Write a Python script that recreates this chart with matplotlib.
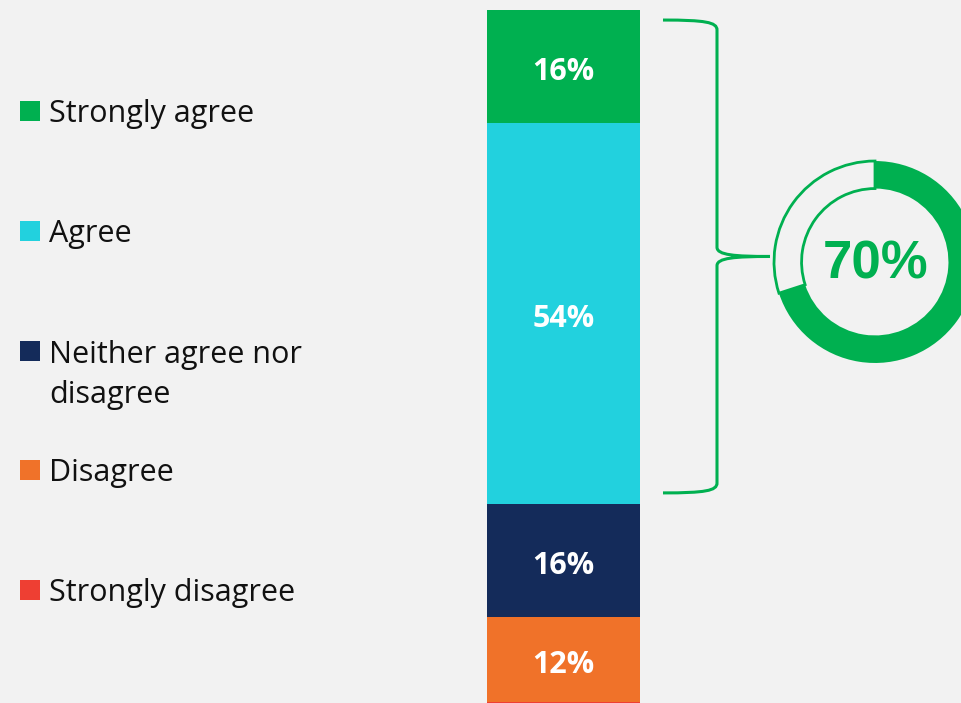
import matplotlib.pyplot as plt
from matplotlib.path import Path
from matplotlib.patches import PathPatch, Rectangle

# survey responses, top of the bar first
categories = ['Strongly agree', 'Agree', 'Neither agree nor\ndisagree', 'Disagree', 'Strongly disagree']
shares = [16, 54, 16, 12, 2]
colors = ['#00B050', '#22D1DE', '#142B5A', '#F07229', '#EE3F33']
agree_total = shares[0] + shares[1]

bg = '#F2F2F2'
green = '#00B050'
W, H = 961, 703

fig = plt.figure(figsize=(W / 100, H / 100), dpi=100)
fig.patch.set_facecolor(bg)

# main axes: x in pixels, y in percent (0 at top)
ax = fig.add_axes([0, 0, 1, 1])
ax.set_facecolor(bg)
ax.set_xlim(0, W)
ax.set_ylim(98.16, -1.42)
ax.axis('off')

bottom = 0
for share, color in zip(shares, colors):
    ax.bar(563.5, share, width=153, bottom=bottom, color=color, linewidth=0)
    if share >= 5:
        ax.text(563.5, bottom + share / 2 + 0.8, f'{share}%', color='white', fontsize=22,
                fontweight='bold', family='Open Sans', ha='center', va='center')
    bottom += share

# curly brace around strongly agree + agree
top = 1.42
bot = agree_total - 1.6
mid = (top + bot) / 2
xe, xs, xt = 663, 717, 770
verts = [
    (xe, top), (705, top), (xs, top + 0.3), (xs, top + 1.4),
    (xs, mid - 1.3),
    (xs, mid - 0.2), (735, mid), (xt, mid),
    (735, mid), (xs, mid + 0.2), (xs, mid + 1.3),
    (xs, bot - 1.4),
    (xs, bot - 0.3), (705, bot), (xe, bot),
]
codes = [Path.MOVETO, Path.CURVE4, Path.CURVE4, Path.CURVE4,
         Path.LINETO,
         Path.CURVE4, Path.CURVE4, Path.CURVE4,
         Path.CURVE4, Path.CURVE4, Path.CURVE4,
         Path.LINETO,
         Path.CURVE4, Path.CURVE4, Path.CURVE4]
ax.add_patch(PathPatch(Path(verts, codes), facecolor='none', edgecolor=green,
                       linewidth=2.2, capstyle='butt'))

# legend (baseline of the first text line)
legend_y = [122, 242, 362, 481, 601]
for label, color, y in zip(categories, colors, legend_y):
    fig.patches.append(Rectangle((20 / W, 1 - (y - 1) / H), 20 / W, 20 / H,
                                 transform=fig.transFigure, facecolor=color, linewidth=0))
    n_lines = label.count('\n')
    fig.text(49 / W, 1 - (y + 41 * n_lines) / H, label, fontsize=22, family='Open Sans',
             color='#111111', ha='left', va='baseline', linespacing=1.42)

# donut with the agree total
r_px = 102
cx, cy = 875, 262
axd = fig.add_axes([(cx - r_px) / W, (H - cy - r_px) / H, 2 * r_px / W, 2 * r_px / H])
wedges, _ = axd.pie([agree_total, 100 - agree_total], radius=0.99, startangle=90,
                    counterclock=False, colors=[green, bg],
                    wedgeprops=dict(width=0.27))
wedges[0].set_linewidth(0)
wedges[1].set_edgecolor(green)
wedges[1].set_linewidth(2)
axd.set_xlim(-1, 1)
axd.set_ylim(-1, 1)
axd.set_aspect('equal')
axd.axis('off')
axd.text(0.01, -0.02, f'{agree_total}%', color=green, fontsize=38, fontweight='bold',
         family='Liberation Sans', ha='center', va='center')

fig.savefig('out.png', dpi=100, facecolor=bg)
